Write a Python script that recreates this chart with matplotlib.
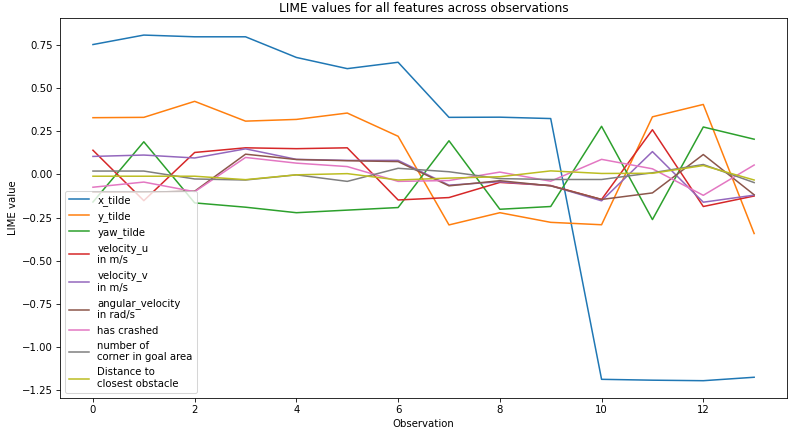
import numpy as np
import matplotlib
matplotlib.use("Agg")
import matplotlib.pyplot as plt

observations = np.arange(14)

x_tilde = [0.755, 0.81, 0.80, 0.80, 0.68, 0.615, 0.652, 0.332, 0.333, 0.325, -1.19, -1.195, -1.198, -1.178]
y_tilde = [0.33, 0.332, 0.425, 0.31, 0.32, 0.357, 0.222, -0.293, -0.222, -0.278, -0.292, 0.335, 0.407, -0.343]
yaw_tilde = [-0.16, 0.19, -0.165, -0.19, -0.222, -0.207, -0.192, 0.196, -0.202, -0.186, 0.28, -0.262, 0.276, 0.205]
velocity_u = [0.141, -0.152, 0.128, 0.155, 0.15, 0.155, -0.148, -0.134, -0.046, -0.064, -0.145, 0.26, -0.186, -0.125]
velocity_v = [0.105, 0.113, 0.096, 0.149, 0.088, 0.082, 0.082, -0.062, -0.042, -0.065, -0.153, 0.133, -0.161, -0.12]
angular_velocity = [-0.103, -0.103, -0.097, 0.118, 0.087, 0.08, 0.075, -0.066, -0.036, -0.066, -0.145, -0.107, 0.116, -0.118]
has_crashed = [-0.074, -0.044, -0.1, 0.099, 0.066, 0.046, -0.04, -0.035, 0.014, -0.039, 0.088, 0.033, -0.121, 0.055]
corner_goal = [0.02, 0.02, -0.026, -0.032, -0.002, -0.04, 0.036, 0.016, -0.024, -0.029, -0.029, 0.01, 0.058, -0.047]
dist_obstacle = [-0.01, -0.01, -0.01, -0.03, -0.002, 0.005, -0.032, -0.021, -0.013, 0.021, 0.006, 0.007, 0.052, -0.032]

labels = ["x_tilde", "y_tilde", "yaw_tilde", "velocity_u\nin m/s", "velocity_v\nin m/s",
          "angular_velocity\nin rad/s", "has crashed", "number of\ncorner in goal area",
          "Distance to\nclosest obstacle"]
series = [x_tilde, y_tilde, yaw_tilde, velocity_u, velocity_v, angular_velocity,
          has_crashed, corner_goal, dist_obstacle]

# drawn larger and saved at low dpi so text comes out small like the reference
fig = plt.figure(figsize=(788 / 73, 434 / 73), dpi=73)
ax = fig.add_subplot(111)
for vals, lab in zip(series, labels):
    ax.plot(observations, vals, label=lab)

ax.set_title("LIME values for all features across observations")
ax.set_xlabel("Observation")
ax.set_ylabel("LIME value")
ax.legend(loc="lower left")

fig.subplots_adjust(left=0.076, right=0.999, top=0.959, bottom=0.083)
fig.savefig("out.png", dpi=73)
